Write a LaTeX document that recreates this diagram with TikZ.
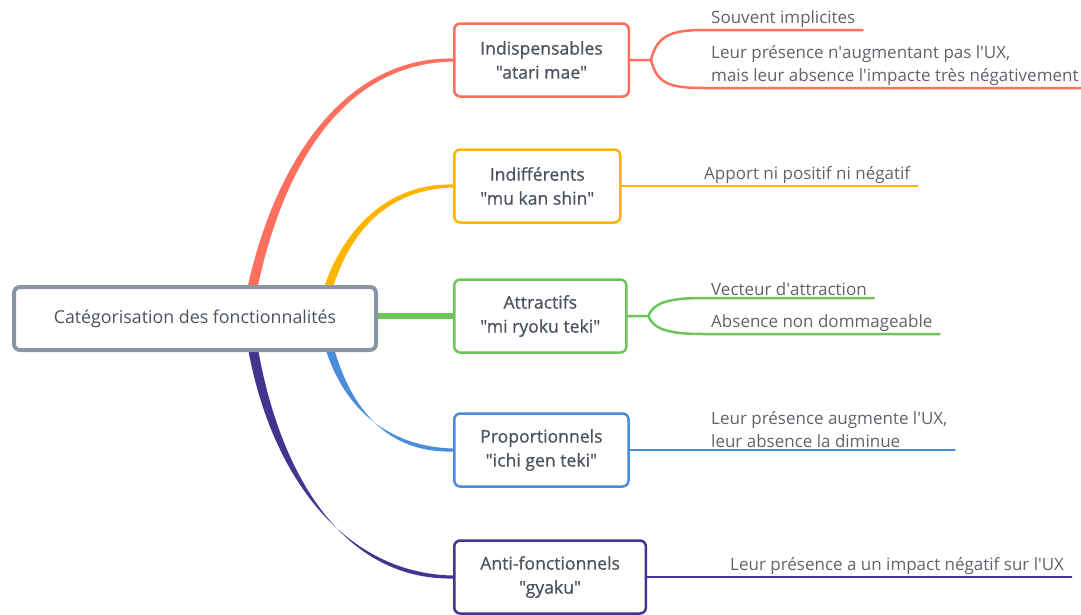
\documentclass[tikz,border=0pt]{standalone}
\usepackage{fontspec}
\setmainfont{Open Sans}
\newfontfamily\semigras[FakeBold=0.7]{Open Sans}
\usetikzlibrary{calc}
\pgfdeclarelayer{fond}
\pgfsetlayers{fond,main}

\definecolor{cRouge}{HTML}{FF6F5E}
\definecolor{cJaune}{HTML}{FFB400}
\definecolor{cVert}{HTML}{6CC55A}
\definecolor{cBleu}{HTML}{4A8DDA}
\definecolor{cViolet}{HTML}{43348F}
\definecolor{cGris}{HTML}{8A95A6}
\definecolor{cTexte}{HTML}{4B535E}
\definecolor{cFeuille}{HTML}{5F646B}

\newcommand{\ap}{\textquotesingle}

\tikzset{
	racine/.style={draw=cGris, line width=4pt, fill=white, rounded corners=6pt, minimum width=362pt, minimum height=63pt, text=cTexte, font=\fontsize{17.8}{23}\selectfont},
	categorie/.style={draw=#1, line width=2.5pt, fill=white, rounded corners=6pt, minimum height=73pt, inner xsep=26pt, align=center, anchor=west, text=cTexte, font=\semigras\fontsize{17.6}{24}\selectfont},
	feuille/.style={anchor=south west, inner xsep=7pt, inner ysep=2pt, align=left, text=cFeuille, font=\fontsize{17}{23}\selectfont},
	trait/.style={draw=#1, line width=2.5pt, line cap=round},
}

\begin{document}
\begin{tikzpicture}[x=1pt, y=-1pt, line join=round]
	\useasboundingbox (0,0) rectangle (1081,614);

	% Noeud central
	\node[racine] (racine) at (195,318.5) {Catégorisation des fonctionnalités};

	% Catégories
	\foreach \n/\c/\y/\t in {ind/cRouge/60/{Indispensables\\"atari mae"}, idf/cJaune/186/{Indifférents\\"mu kan shin"}, att/cVert/316/{Attractifs\\"mi ryoku teki"}, pro/cBleu/450/{Proportionnels\\"ichi gen teki"}, ant/cViolet/577/{Anti-fonctionnels\\"gyaku"}} {
		\node[categorie=\c] (\n) at (453,\y) {\t};
	}

	% Départs des branches
	\coordinate (d1) at (250,300);
	\coordinate (d2) at (325,300);
	\coordinate (d4) at (325,330);
	\coordinate (d5) at (250,330);

	% Branches effilées
	\begin{pgfonlayer}{fond}
		\foreach \c/\s/\e/\dx/\dy/\h/\w in {cRouge/d1/ind/25/-130/112/5, cJaune/d2/idf/15/-60/72/4.5, cBleu/d4/pro/15/70/72/4.5, cViolet/d5/ant/20/140/112/5} {
			\fill[\c] ($(\s)+(-\w,0)$) .. controls ($(\s)+(\dx,\dy)+(-\w,0)$) and ($(\e.west)+(-\h,-3.5)$) .. ($(\e.west)+(0,-1.5)$)
				-- ($(\e.west)+(0,1.5)$) .. controls ($(\e.west)+(-\h,3.5)$) and ($(\s)+(\dx,\dy)+(\w,0)$) .. ($(\s)+(\w,0)$) -- cycle;
		}
		\draw[cVert, line width=5.5pt] (racine.east |- att.west) -- (att.west);
	\end{pgfonlayer}

	% Feuilles
	\node[feuille] (f1) at (704,30) {Souvent implicites};
	\node[feuille] (f2) at (704,88) {Leur présence n\ap augmentant pas l\ap UX,\\mais leur absence l\ap impacte très négativement};
	\node[feuille] (f3) at (697,186) {Apport ni positif ni négatif};
	\node[feuille] (f4) at (704,298) {Vecteur d\ap attraction};
	\node[feuille] (f5) at (704,334) {Absence non dommageable};
	\node[feuille] (f6) at (704,450) {Leur présence augmente l\ap UX,\\leur absence la diminue};
	\node[feuille] (f7) at (723,577) {Leur présence a un impact négatif sur l\ap UX};

	% Fourches
	\coordinate (k1) at ($(ind.east)+(21,0)$);
	\coordinate (k3) at ($(att.east)+(21,0)$);

	% Liens vers les feuilles
	\draw[trait=cRouge] (ind.east) -- (k1) .. controls +(6,-24) and +(-34,0) .. (f1.south west) -- (f1.south east);
	\draw[trait=cRouge] (k1) .. controls +(6,24) and +(-34,0) .. (f2.south west) -- (f2.south east);
	\draw[trait=cJaune] (idf.east) -- (f3.south west) -- (f3.south east);
	\draw[trait=cVert] (att.east) -- (k3) .. controls +(5,-15) and +(-30,0) .. (f4.south west) -- (f4.south east);
	\draw[trait=cVert] (k3) .. controls +(5,15) and +(-30,0) .. (f5.south west) -- (f5.south east);
	\draw[trait=cBleu] (pro.east) -- (f6.south west) -- (f6.south east);
	\draw[trait=cViolet] (ant.east) -- (f7.south west) -- (f7.south east);
\end{tikzpicture}
\end{document}
